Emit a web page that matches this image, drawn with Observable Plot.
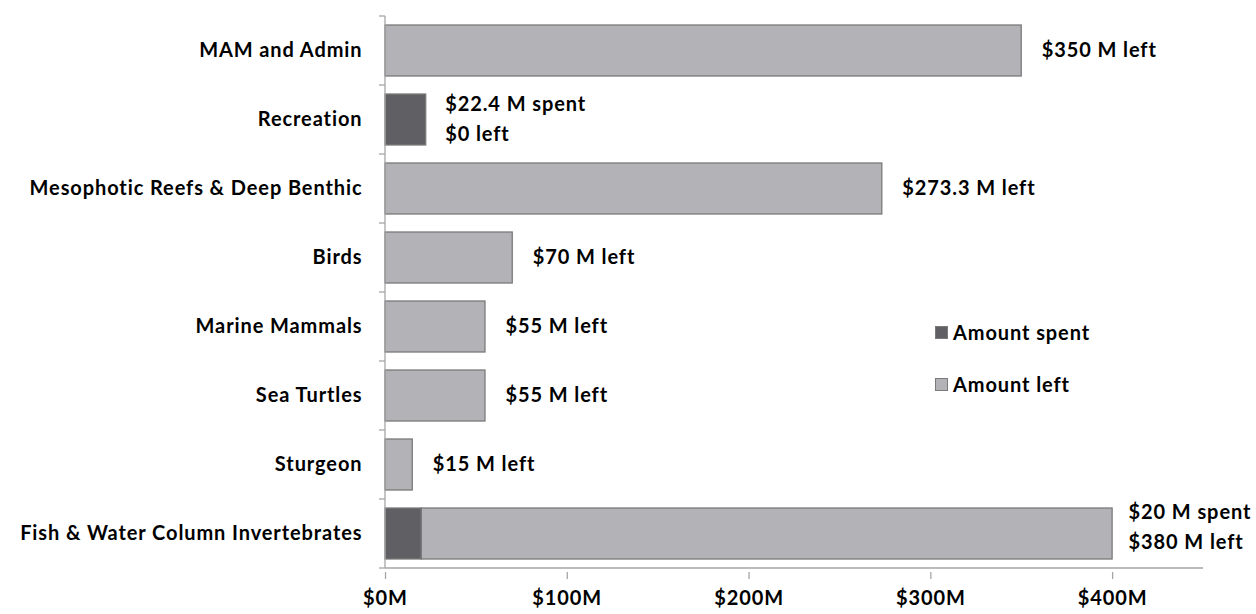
<!DOCTYPE html>
<html>
<head>
<meta charset="utf-8">
<script src="https://cdn.jsdelivr.net/npm/d3@7"></script>
<script src="https://cdn.jsdelivr.net/npm/@observablehq/plot@0.6"></script>
<style>
  html, body { margin: 0; padding: 0; background: #fff; }
  #wrap { position: relative; width: 1256px; height: 614px; font-family: Lato, "Open Sans", sans-serif; }
  #wrap svg text { letter-spacing: 0.9px; }
  #legend { position: absolute; left: 935px; top: 318px; font: bold 20px Lato, sans-serif; letter-spacing: 0.9px; color: #000; }
  #legend .item { display: flex; align-items: center; height: 28px; margin-bottom: 24px; }
  #legend .sw { width: 11px; height: 11px; border: 1px solid #7a7a7a; margin-right: 5px; box-sizing: content-box; }
</style>
</head>
<body>
<div id="wrap"></div>
<script>
const categories = [
  "MAM and Admin",
  "Recreation",
  "Mesophotic Reefs & Deep Benthic",
  "Birds",
  "Marine Mammals",
  "Sea Turtles",
  "Sturgeon",
  "Fish & Water Column Invertebrates"
];
const spent = [0, 22.4, 0, 0, 0, 0, 0, 20];
const left = [350, 0, 273.3, 70, 55, 55, 15, 380];
const spentLabels = ["", "$22.4 M spent", "", "", "", "", "", "$20 M spent"];
const leftLabels = ["$350 M left", "$0 left", "$273.3 M left", "$70 M left", "$55 M left", "$55 M left", "$15 M left", "$380 M left"];
const xTicks = [0, 100, 200, 300, 400];
const seriesNames = ["Amount spent", "Amount left"];
const seriesColors = ["#605f63", "#b3b2b6"];

const rows = [];
categories.forEach((c, i) => {
  rows.push({category: c, series: seriesNames[0], value: spent[i]});
  rows.push({category: c, series: seriesNames[1], value: left[i]});
});
const labelRows = categories.map((c, i) => ({
  category: c,
  total: spent[i] + left[i],
  two: spentLabels[i] !== "",
  text: spentLabels[i] !== "" ? spentLabels[i] + "\n" + leftLabels[i] : leftLabels[i]
}));

const axisColor = "#a6a6a6";
const FS = 20;

function frameLines(index, scales) {
  const g = d3.create("svg:g");
  const y = scales.y, x = scales.x;
  const bw = y.bandwidth();
  const step = y.step ? y.step() : bw / (1 - 0.26);
  const x0 = x(0);
  const bounds = categories.map(c => y(c) - (step - bw) / 2);
  bounds.push(y(categories[categories.length - 1]) + bw + (step - bw) / 2);
  g.append("line").attr("x1", x0).attr("x2", x0).attr("y1", bounds[0]).attr("y2", bounds[bounds.length - 1])
    .attr("stroke", axisColor).attr("stroke-width", 1.3);
  bounds.forEach(b => {
    g.append("line").attr("x1", x0 - 6).attr("x2", x0).attr("y1", b).attr("y2", b)
      .attr("stroke", axisColor).attr("stroke-width", 1.3);
  });
  const yb = bounds[bounds.length - 1];
  const xr = x.range();
  g.append("line").attr("x1", x0).attr("x2", xr[1]).attr("y1", yb).attr("y2", yb)
    .attr("stroke", axisColor).attr("stroke-width", 1.3);
  return g.node();
}

const chart = Plot.plot({
  width: 1256,
  height: 614,
  marginLeft: 385,
  marginRight: 53,
  marginTop: 13,
  marginBottom: 42,
  style: {fontFamily: "Lato, sans-serif", fontSize: FS + "px", fontWeight: "bold", color: "#000", background: "#fff"},
  x: {domain: [0, 450], label: null},
  y: {domain: categories, paddingInner: 0.26, paddingOuter: 0.13, label: null},
  color: {domain: seriesNames, range: seriesColors},
  marks: [
    Plot.barX(rows, Plot.stackX({
      x: "value", y: "category", fill: "series", order: seriesNames,
      stroke: "#7a7a7a", strokeWidth: 1.3
    })),
    frameLines,
    Plot.axisY({tickSize: 0, tickPadding: 23, fontSize: FS, fontWeight: "bold", fill: "#000"}),
    Plot.axisX({ticks: xTicks, tickSize: 7, tickPadding: 11, stroke: axisColor, strokeWidth: 1.3,
      tickFormat: d => `$${d}M`, fontSize: FS, fontWeight: "bold", fill: "#000"}),
    Plot.text(labelRows.filter(d => !d.two), {
      x: "total", y: "category", text: "text", textAnchor: "start", dx: 20,
      fontSize: FS, fontWeight: "bold", fill: "#000"
    }),
    Plot.text(labelRows.filter(d => d.two && d.category === "Recreation"), {
      x: "total", y: "category", text: "text", textAnchor: "start", dx: 19, dy: -4, lineHeight: 1.5,
      fontSize: FS, fontWeight: "bold", fill: "#000"
    }),
    Plot.text(labelRows.filter(d => d.two && d.category !== "Recreation"), {
      x: "total", y: "category", text: "text", textAnchor: "start", dx: 16, dy: -10, lineHeight: 1.5,
      fontSize: FS, fontWeight: "bold", fill: "#000"
    })
  ]
});

const wrap = document.getElementById("wrap");
wrap.appendChild(chart);
const legend = document.createElement("div");
legend.id = "legend";
seriesNames.forEach((n, i) => {
  const item = document.createElement("div");
  item.className = "item";
  const sw = document.createElement("span");
  sw.className = "sw";
  sw.style.background = seriesColors[i];
  const t = document.createElement("span");
  t.textContent = n;
  item.appendChild(sw);
  item.appendChild(t);
  legend.appendChild(item);
});
wrap.appendChild(legend);
</script>
</body>
</html>
